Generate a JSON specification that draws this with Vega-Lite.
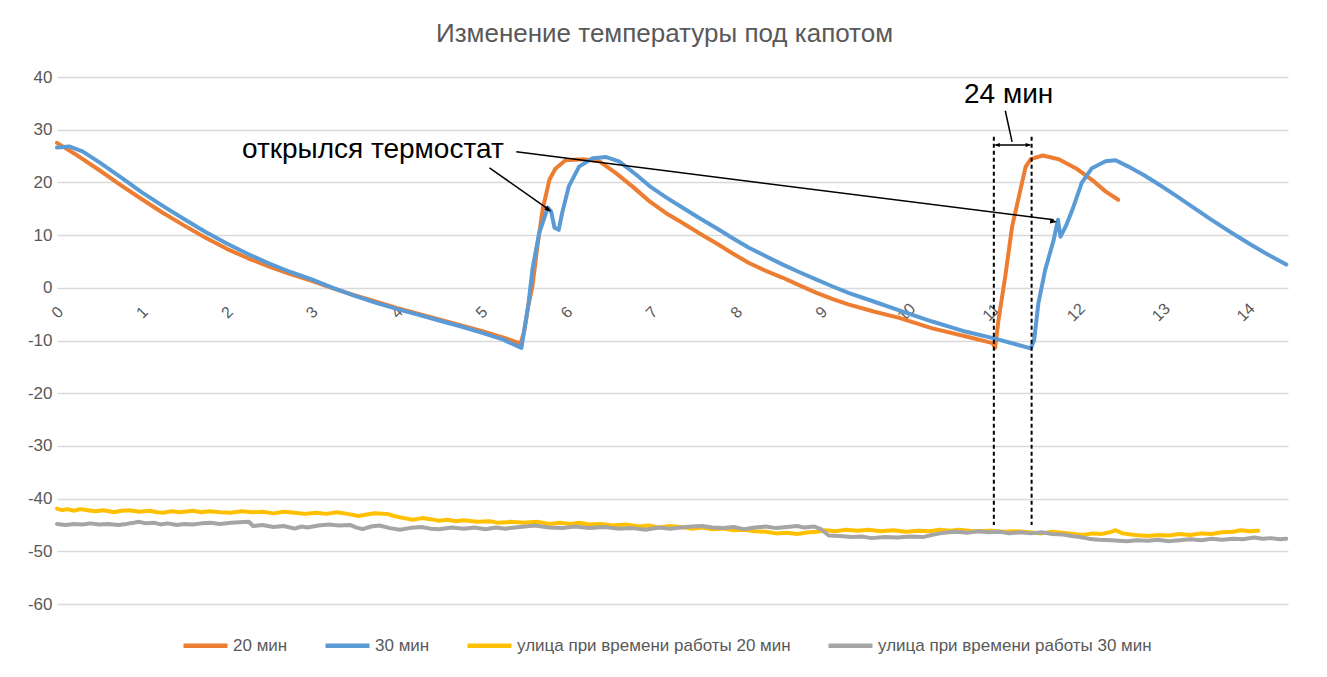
{
  "$schema": "https://vega.github.io/schema/vega-lite/v6.json",
  "width": 1231,
  "height": 527,
  "autosize": {"type": "none"},
  "padding": {"left": 57, "top": 77, "right": 39, "bottom": 73},
  "background": "white",
  "config": {
    "view": {"stroke": null},
    "font": "Liberation Sans"
  },
  "title": {
    "text": "Изменение температуры под капотом",
    "fontSize": 26,
    "fontWeight": "normal",
    "color": "#595959",
    "font": "Liberation Sans",
    "anchor": "middle",
    "baseline": "bottom",
    "offset": -5,
    "dx": -8
  },
  "layer": [
    {
      "data": {"values": [
        {"series": "20 мин", "x": 0, "t": 27.5}, {"series": "20 мин", "x": 0.25, "t": 25.0}, {"series": "20 мин", "x": 0.5, "t": 22.3}, {"series": "20 мин", "x": 0.75, "t": 19.5}, {"series": "20 мин", "x": 1.0, "t": 16.8}, {"series": "20 мин", "x": 1.25, "t": 14.2}, {"series": "20 мин", "x": 1.5, "t": 11.8}, {"series": "20 мин", "x": 1.75, "t": 9.5}, {"series": "20 мин", "x": 2.0, "t": 7.4}, {"series": "20 мин", "x": 2.25, "t": 5.6}, {"series": "20 мин", "x": 2.5, "t": 4.0}, {"series": "20 мин", "x": 2.75, "t": 2.6}, {"series": "20 мин", "x": 3.0, "t": 1.3}, {"series": "20 мин", "x": 3.25, "t": -0.1}, {"series": "20 мин", "x": 3.5, "t": -1.4}, {"series": "20 мин", "x": 3.75, "t": -2.6}, {"series": "20 мин", "x": 4.0, "t": -3.8}, {"series": "20 мин", "x": 4.25, "t": -4.9}, {"series": "20 мин", "x": 4.5, "t": -6.0}, {"series": "20 мин", "x": 4.75, "t": -7.1}, {"series": "20 мин", "x": 5.0, "t": -8.2}, {"series": "20 мин", "x": 5.25, "t": -9.4}, {"series": "20 мин", "x": 5.46, "t": -10.6}, {"series": "20 мин", "x": 5.5, "t": -8.5}, {"series": "20 мин", "x": 5.55, "t": -3.5}, {"series": "20 мин", "x": 5.6, "t": 0.3}, {"series": "20 мин", "x": 5.66, "t": 8.0}, {"series": "20 мин", "x": 5.72, "t": 14.8}, {"series": "20 мин", "x": 5.8, "t": 20.5}, {"series": "20 мин", "x": 5.87, "t": 22.6}, {"series": "20 мин", "x": 5.99, "t": 24.2}, {"series": "20 мин", "x": 6.19, "t": 24.4}, {"series": "20 мин", "x": 6.39, "t": 24.0}, {"series": "20 мин", "x": 6.58, "t": 21.8}, {"series": "20 мин", "x": 6.78, "t": 19.2}, {"series": "20 мин", "x": 6.98, "t": 16.4}, {"series": "20 мин", "x": 7.17, "t": 14.2}, {"series": "20 мин", "x": 7.37, "t": 12.3}, {"series": "20 мин", "x": 7.56, "t": 10.4}, {"series": "20 мин", "x": 7.76, "t": 8.5}, {"series": "20 мин", "x": 7.95, "t": 6.6}, {"series": "20 мин", "x": 8.15, "t": 4.7}, {"series": "20 мин", "x": 8.35, "t": 3.2}, {"series": "20 мин", "x": 8.55, "t": 1.9}, {"series": "20 мин", "x": 8.74, "t": 0.5}, {"series": "20 мин", "x": 8.94, "t": -0.9}, {"series": "20 мин", "x": 9.13, "t": -2.1}, {"series": "20 мин", "x": 9.33, "t": -3.2}, {"series": "20 мин", "x": 9.62, "t": -4.5}, {"series": "20 мин", "x": 9.92, "t": -5.7}, {"series": "20 мин", "x": 10.31, "t": -7.7}, {"series": "20 мин", "x": 10.7, "t": -9.2}, {"series": "20 мин", "x": 11.02, "t": -10.5}, {"series": "20 мин", "x": 11.05, "t": -11.4}, {"series": "20 мин", "x": 11.09, "t": -6.1}, {"series": "20 мин", "x": 11.17, "t": 2.2}, {"series": "20 мин", "x": 11.25, "t": 11.6}, {"series": "20 мин", "x": 11.33, "t": 17.3}, {"series": "20 мин", "x": 11.41, "t": 23.0}, {"series": "20 мин", "x": 11.47, "t": 24.4}, {"series": "20 мин", "x": 11.61, "t": 25.1}, {"series": "20 мин", "x": 11.8, "t": 24.4}, {"series": "20 мин", "x": 12.0, "t": 22.7}, {"series": "20 мин", "x": 12.19, "t": 20.5}, {"series": "20 мин", "x": 12.35, "t": 18.3}, {"series": "20 мин", "x": 12.5, "t": 16.7},
        {"series": "30 мин", "x": 0, "t": 26.6}, {"series": "30 мин", "x": 0.15, "t": 26.8}, {"series": "30 мин", "x": 0.3, "t": 25.9}, {"series": "30 мин", "x": 0.5, "t": 23.8}, {"series": "30 мин", "x": 0.75, "t": 21.0}, {"series": "30 мин", "x": 1.0, "t": 18.1}, {"series": "30 мин", "x": 1.25, "t": 15.5}, {"series": "30 мин", "x": 1.5, "t": 13.0}, {"series": "30 мин", "x": 1.75, "t": 10.6}, {"series": "30 мин", "x": 2.0, "t": 8.4}, {"series": "30 мин", "x": 2.25, "t": 6.4}, {"series": "30 мин", "x": 2.5, "t": 4.6}, {"series": "30 мин", "x": 2.75, "t": 3.0}, {"series": "30 мин", "x": 3.0, "t": 1.6}, {"series": "30 мин", "x": 3.25, "t": 0.0}, {"series": "30 мин", "x": 3.5, "t": -1.5}, {"series": "30 мин", "x": 3.75, "t": -2.8}, {"series": "30 мин", "x": 4.0, "t": -4.0}, {"series": "30 мин", "x": 4.25, "t": -5.1}, {"series": "30 мин", "x": 4.5, "t": -6.2}, {"series": "30 мин", "x": 4.75, "t": -7.3}, {"series": "30 мин", "x": 5.0, "t": -8.5}, {"series": "30 мин", "x": 5.25, "t": -9.8}, {"series": "30 мин", "x": 5.47, "t": -11.4}, {"series": "30 мин", "x": 5.55, "t": -3.5}, {"series": "30 мин", "x": 5.6, "t": 3.5}, {"series": "30 мин", "x": 5.68, "t": 10.4}, {"series": "30 мин", "x": 5.78, "t": 15.2}, {"series": "30 мин", "x": 5.82, "t": 14.5}, {"series": "30 мин", "x": 5.86, "t": 11.4}, {"series": "30 мин", "x": 5.91, "t": 11.0}, {"series": "30 мин", "x": 5.95, "t": 14.2}, {"series": "30 мин", "x": 6.03, "t": 19.3}, {"series": "30 мин", "x": 6.15, "t": 23.0}, {"series": "30 мин", "x": 6.31, "t": 24.6}, {"series": "30 мин", "x": 6.47, "t": 24.8}, {"series": "30 мин", "x": 6.62, "t": 24.0}, {"series": "30 мин", "x": 6.82, "t": 21.5}, {"series": "30 мин", "x": 6.98, "t": 19.3}, {"series": "30 мин", "x": 7.17, "t": 17.2}, {"series": "30 мин", "x": 7.37, "t": 15.2}, {"series": "30 мин", "x": 7.56, "t": 13.3}, {"series": "30 мин", "x": 7.76, "t": 11.4}, {"series": "30 мин", "x": 7.95, "t": 9.5}, {"series": "30 мин", "x": 8.15, "t": 7.6}, {"series": "30 мин", "x": 8.35, "t": 6.0}, {"series": "30 мин", "x": 8.55, "t": 4.4}, {"series": "30 мин", "x": 8.74, "t": 3.0}, {"series": "30 мин", "x": 8.94, "t": 1.6}, {"series": "30 мин", "x": 9.13, "t": 0.3}, {"series": "30 мин", "x": 9.33, "t": -1.0}, {"series": "30 мин", "x": 9.62, "t": -2.6}, {"series": "30 мин", "x": 9.92, "t": -4.3}, {"series": "30 мин", "x": 10.31, "t": -6.4}, {"series": "30 мин", "x": 10.7, "t": -8.3}, {"series": "30 мин", "x": 11.06, "t": -9.7}, {"series": "30 мин", "x": 11.47, "t": -11.5}, {"series": "30 мин", "x": 11.51, "t": -9.9}, {"series": "30 мин", "x": 11.56, "t": -2.9}, {"series": "30 мин", "x": 11.64, "t": 3.4}, {"series": "30 мин", "x": 11.74, "t": 9.1}, {"series": "30 мин", "x": 11.79, "t": 12.9}, {"series": "30 мин", "x": 11.82, "t": 9.7}, {"series": "30 мин", "x": 11.88, "t": 11.6}, {"series": "30 мин", "x": 11.96, "t": 14.8}, {"series": "30 мин", "x": 12.07, "t": 19.9}, {"series": "30 мин", "x": 12.19, "t": 22.7}, {"series": "30 мин", "x": 12.35, "t": 24.0}, {"series": "30 мин", "x": 12.47, "t": 24.2}, {"series": "30 мин", "x": 12.62, "t": 23.0}, {"series": "30 мин", "x": 12.8, "t": 21.4}, {"series": "30 мин", "x": 12.98, "t": 19.6}, {"series": "30 мин", "x": 13.18, "t": 17.5}, {"series": "30 мин", "x": 13.37, "t": 15.4}, {"series": "30 мин", "x": 13.6, "t": 12.9}, {"series": "30 мин", "x": 13.84, "t": 10.4}, {"series": "30 мин", "x": 14.05, "t": 8.3}, {"series": "30 мин", "x": 14.23, "t": 6.6}, {"series": "30 мин", "x": 14.48, "t": 4.4},
        {"series": "улица при времени работы 20 мин", "x": 0.0, "t": -41.9}, {"series": "улица при времени работы 20 мин", "x": 0.06, "t": -42.2}, {"series": "улица при времени работы 20 мин", "x": 0.12, "t": -42.0}, {"series": "улица при времени работы 20 мин", "x": 0.2, "t": -42.3}, {"series": "улица при времени работы 20 мин", "x": 0.27, "t": -42.0}, {"series": "улица при времени работы 20 мин", "x": 0.36, "t": -42.2}, {"series": "улица при времени работы 20 мин", "x": 0.45, "t": -42.4}, {"series": "улица при времени работы 20 мин", "x": 0.55, "t": -42.2}, {"series": "улица при времени работы 20 мин", "x": 0.67, "t": -42.6}, {"series": "улица при времени работы 20 мин", "x": 0.76, "t": -42.3}, {"series": "улица при времени работы 20 мин", "x": 0.85, "t": -42.2}, {"series": "улица при времени работы 20 мин", "x": 0.97, "t": -42.5}, {"series": "улица при времени работы 20 мин", "x": 1.09, "t": -42.3}, {"series": "улица при времени работы 20 мин", "x": 1.18, "t": -42.6}, {"series": "улица при времени работы 20 мин", "x": 1.25, "t": -42.7}, {"series": "улица при времени работы 20 мин", "x": 1.35, "t": -42.4}, {"series": "улица при времени работы 20 мин", "x": 1.45, "t": -42.6}, {"series": "улица при времени работы 20 мин", "x": 1.6, "t": -42.3}, {"series": "улица при времени работы 20 мин", "x": 1.7, "t": -42.6}, {"series": "улица при времени работы 20 мин", "x": 1.8, "t": -42.4}, {"series": "улица при времени работы 20 мин", "x": 1.92, "t": -42.6}, {"series": "улица при времени работы 20 мин", "x": 2.05, "t": -42.7}, {"series": "улица при времени работы 20 мин", "x": 2.17, "t": -42.4}, {"series": "улица при времени работы 20 мин", "x": 2.3, "t": -42.6}, {"series": "улица при времени работы 20 мин", "x": 2.42, "t": -42.5}, {"series": "улица при времени работы 20 мин", "x": 2.55, "t": -42.8}, {"series": "улица при времени работы 20 мин", "x": 2.67, "t": -42.5}, {"series": "улица при времени работы 20 мин", "x": 2.8, "t": -42.7}, {"series": "улица при времени работы 20 мин", "x": 2.92, "t": -42.9}, {"series": "улица при времени работы 20 мин", "x": 3.05, "t": -42.7}, {"series": "улица при времени работы 20 мин", "x": 3.17, "t": -42.9}, {"series": "улица при времени работы 20 мин", "x": 3.3, "t": -42.6}, {"series": "улица при времени работы 20 мин", "x": 3.42, "t": -42.9}, {"series": "улица при времени работы 20 мин", "x": 3.55, "t": -43.3}, {"series": "улица при времени работы 20 мин", "x": 3.65, "t": -43.0}, {"series": "улица при времени работы 20 мин", "x": 3.74, "t": -42.8}, {"series": "улица при времени работы 20 мин", "x": 3.89, "t": -42.9}, {"series": "улица при времени работы 20 мин", "x": 3.97, "t": -43.3}, {"series": "улица при времени работы 20 мин", "x": 4.05, "t": -43.6}, {"series": "улица при времени работы 20 мин", "x": 4.12, "t": -43.8}, {"series": "улица при времени работы 20 мин", "x": 4.19, "t": -44.0}, {"series": "улица при времени работы 20 мин", "x": 4.3, "t": -43.7}, {"series": "улица при времени работы 20 мин", "x": 4.4, "t": -43.9}, {"series": "улица при времени работы 20 мин", "x": 4.5, "t": -44.2}, {"series": "улица при времени работы 20 мин", "x": 4.6, "t": -44.0}, {"series": "улица при времени работы 20 мин", "x": 4.7, "t": -44.3}, {"series": "улица при времени работы 20 мин", "x": 4.79, "t": -44.1}, {"series": "улица при времени работы 20 мин", "x": 4.95, "t": -44.4}, {"series": "улица при времени работы 20 мин", "x": 5.1, "t": -44.3}, {"series": "улица при времени работы 20 мин", "x": 5.2, "t": -44.6}, {"series": "улица при времени работы 20 мин", "x": 5.35, "t": -44.4}, {"series": "улица при времени работы 20 мин", "x": 5.5, "t": -44.6}, {"series": "улица при времени работы 20 мин", "x": 5.65, "t": -44.4}, {"series": "улица при времени работы 20 мин", "x": 5.8, "t": -44.8}, {"series": "улица при времени работы 20 мин", "x": 5.92, "t": -44.6}, {"series": "улица при времени работы 20 мин", "x": 6.05, "t": -44.8}, {"series": "улица при времени работы 20 мин", "x": 6.15, "t": -44.6}, {"series": "улица при времени работы 20 мин", "x": 6.27, "t": -44.9}, {"series": "улица при времени работы 20 мин", "x": 6.4, "t": -44.8}, {"series": "улица при времени работы 20 мин", "x": 6.55, "t": -45.1}, {"series": "улица при времени работы 20 мин", "x": 6.7, "t": -44.9}, {"series": "улица при времени работы 20 мин", "x": 6.86, "t": -45.3}, {"series": "улица при времени работы 20 мин", "x": 6.97, "t": -45.1}, {"series": "улица при времени работы 20 мин", "x": 7.09, "t": -45.5}, {"series": "улица при времени работы 20 мин", "x": 7.22, "t": -45.2}, {"series": "улица при времени работы 20 мин", "x": 7.35, "t": -45.4}, {"series": "улица при времени работы 20 мин", "x": 7.47, "t": -45.7}, {"series": "улица при времени работы 20 мин", "x": 7.6, "t": -45.5}, {"series": "улица при времени работы 20 мин", "x": 7.72, "t": -45.8}, {"series": "улица при времени работы 20 мин", "x": 7.85, "t": -45.7}, {"series": "улица при времени работы 20 мин", "x": 7.97, "t": -46.0}, {"series": "улица при времени работы 20 мин", "x": 8.09, "t": -45.9}, {"series": "улица при времени работы 20 мин", "x": 8.22, "t": -46.2}, {"series": "улица при времени работы 20 мин", "x": 8.35, "t": -46.3}, {"series": "улица при времени работы 20 мин", "x": 8.47, "t": -46.6}, {"series": "улица при времени работы 20 мин", "x": 8.6, "t": -46.5}, {"series": "улица при времени работы 20 мин", "x": 8.72, "t": -46.7}, {"series": "улица при времени работы 20 мин", "x": 8.85, "t": -46.4}, {"series": "улица при времени работы 20 мин", "x": 8.95, "t": -46.3}, {"series": "улица при времени работы 20 мин", "x": 9.05, "t": -46.0}, {"series": "улица при времени работы 20 мин", "x": 9.17, "t": -46.2}, {"series": "улица при времени работы 20 мин", "x": 9.3, "t": -45.9}, {"series": "улица при времени работы 20 мин", "x": 9.43, "t": -46.1}, {"series": "улица при времени работы 20 мин", "x": 9.56, "t": -45.9}, {"series": "улица при времени работы 20 мин", "x": 9.7, "t": -46.2}, {"series": "улица при времени работы 20 мин", "x": 9.85, "t": -46.0}, {"series": "улица при времени работы 20 мин", "x": 10.0, "t": -46.3}, {"series": "улица при времени работы 20 мин", "x": 10.15, "t": -46.1}, {"series": "улица при времени работы 20 мин", "x": 10.28, "t": -46.2}, {"series": "улица при времени работы 20 мин", "x": 10.4, "t": -45.9}, {"series": "улица при времени работы 20 мин", "x": 10.52, "t": -46.1}, {"series": "улица при времени работы 20 мин", "x": 10.62, "t": -45.9}, {"series": "улица при времени работы 20 мин", "x": 10.8, "t": -46.2}, {"series": "улица при времени работы 20 мин", "x": 11.0, "t": -46.1}, {"series": "улица при времени работы 20 мин", "x": 11.15, "t": -46.3}, {"series": "улица при времени работы 20 мин", "x": 11.3, "t": -46.2}, {"series": "улица при времени работы 20 мин", "x": 11.45, "t": -46.4}, {"series": "улица при времени работы 20 мин", "x": 11.6, "t": -46.6}, {"series": "улица при времени работы 20 мин", "x": 11.72, "t": -46.3}, {"series": "улица при времени работы 20 мин", "x": 11.85, "t": -46.5}, {"series": "улица при времени работы 20 мин", "x": 11.97, "t": -46.7}, {"series": "улица при времени работы 20 мин", "x": 12.09, "t": -46.9}, {"series": "улица при времени работы 20 мин", "x": 12.2, "t": -46.6}, {"series": "улица при времени работы 20 мин", "x": 12.3, "t": -46.7}, {"series": "улица при времени работы 20 мин", "x": 12.4, "t": -46.4}, {"series": "улица при времени работы 20 мин", "x": 12.47, "t": -46.0}, {"series": "улица при времени работы 20 мин", "x": 12.55, "t": -46.6}, {"series": "улица при времени работы 20 мин", "x": 12.7, "t": -46.9}, {"series": "улица при времени работы 20 мин", "x": 12.85, "t": -47.1}, {"series": "улица при времени работы 20 мин", "x": 12.97, "t": -46.9}, {"series": "улица при времени работы 20 мин", "x": 13.1, "t": -47.0}, {"series": "улица при времени работы 20 мин", "x": 13.22, "t": -46.7}, {"series": "улица при времени работы 20 мин", "x": 13.35, "t": -46.9}, {"series": "улица при времени работы 20 мин", "x": 13.48, "t": -46.6}, {"series": "улица при времени работы 20 мин", "x": 13.6, "t": -46.7}, {"series": "улица при времени работы 20 мин", "x": 13.72, "t": -46.4}, {"series": "улица при времени работы 20 мин", "x": 13.85, "t": -46.3}, {"series": "улица при времени работы 20 мин", "x": 13.95, "t": -46.0}, {"series": "улица при времени работы 20 мин", "x": 14.05, "t": -46.2}, {"series": "улица при времени работы 20 мин", "x": 14.15, "t": -46.1},
        {"series": "улица при времени работы 30 мин", "x": 0.0, "t": -44.8}, {"series": "улица при времени работы 30 мин", "x": 0.1, "t": -45.0}, {"series": "улица при времени работы 30 мин", "x": 0.2, "t": -44.8}, {"series": "улица при времени работы 30 мин", "x": 0.3, "t": -44.9}, {"series": "улица при времени работы 30 мин", "x": 0.39, "t": -44.7}, {"series": "улица при времени работы 30 мин", "x": 0.5, "t": -44.9}, {"series": "улица при времени работы 30 мин", "x": 0.6, "t": -44.8}, {"series": "улица при времени работы 30 мин", "x": 0.72, "t": -45.0}, {"series": "улица при времени работы 30 мин", "x": 0.82, "t": -44.8}, {"series": "улица при времени работы 30 мин", "x": 0.9, "t": -44.6}, {"series": "улица при времени работы 30 мин", "x": 0.96, "t": -44.4}, {"series": "улица при времени работы 30 мин", "x": 1.05, "t": -44.7}, {"series": "улица при времени работы 30 мин", "x": 1.15, "t": -44.6}, {"series": "улица при времени работы 30 мин", "x": 1.22, "t": -44.9}, {"series": "улица при времени работы 30 мин", "x": 1.3, "t": -44.7}, {"series": "улица при времени работы 30 мин", "x": 1.41, "t": -45.0}, {"series": "улица при времени работы 30 мин", "x": 1.5, "t": -44.8}, {"series": "улица при времени работы 30 мин", "x": 1.6, "t": -44.9}, {"series": "улица при времени работы 30 мин", "x": 1.7, "t": -44.7}, {"series": "улица при времени работы 30 мин", "x": 1.81, "t": -44.6}, {"series": "улица при времени работы 30 мин", "x": 1.92, "t": -44.8}, {"series": "улица при времени работы 30 мин", "x": 2.05, "t": -44.6}, {"series": "улица при времени работы 30 мин", "x": 2.15, "t": -44.5}, {"series": "улица при времени работы 30 мин", "x": 2.26, "t": -44.4}, {"series": "улица при времени работы 30 мин", "x": 2.31, "t": -45.2}, {"series": "улица при времени работы 30 мин", "x": 2.42, "t": -45.0}, {"series": "улица при времени работы 30 мин", "x": 2.55, "t": -45.4}, {"series": "улица при времени работы 30 мин", "x": 2.67, "t": -45.2}, {"series": "улица при времени работы 30 мин", "x": 2.8, "t": -45.7}, {"series": "улица при времени работы 30 мин", "x": 2.88, "t": -45.3}, {"series": "улица при времени работы 30 мин", "x": 2.95, "t": -45.5}, {"series": "улица при времени работы 30 мин", "x": 3.08, "t": -45.1}, {"series": "улица при времени работы 30 мин", "x": 3.2, "t": -44.9}, {"series": "улица при времени работы 30 мин", "x": 3.32, "t": -45.1}, {"series": "улица при времени работы 30 мин", "x": 3.45, "t": -45.0}, {"series": "улица при времени работы 30 мин", "x": 3.53, "t": -45.5}, {"series": "улица при времени работы 30 мин", "x": 3.6, "t": -45.8}, {"series": "улица при времени работы 30 мин", "x": 3.7, "t": -45.3}, {"series": "улица при времени работы 30 мин", "x": 3.8, "t": -45.1}, {"series": "улица при времени работы 30 мин", "x": 3.92, "t": -45.6}, {"series": "улица при времени работы 30 мин", "x": 4.04, "t": -45.9}, {"series": "улица при времени работы 30 мин", "x": 4.15, "t": -45.6}, {"series": "улица при времени работы 30 мин", "x": 4.29, "t": -45.4}, {"series": "улица при времени работы 30 мин", "x": 4.4, "t": -45.7}, {"series": "улица при времени работы 30 мин", "x": 4.5, "t": -45.8}, {"series": "улица при времени работы 30 мин", "x": 4.65, "t": -45.5}, {"series": "улица при времени работы 30 мин", "x": 4.79, "t": -45.7}, {"series": "улица при времени работы 30 мин", "x": 4.92, "t": -45.5}, {"series": "улица при времени работы 30 мин", "x": 5.05, "t": -45.8}, {"series": "улица при времени работы 30 мин", "x": 5.17, "t": -45.5}, {"series": "улица при времени работы 30 мин", "x": 5.28, "t": -45.7}, {"series": "улица при времени работы 30 мин", "x": 5.45, "t": -45.4}, {"series": "улица при времени работы 30 мин", "x": 5.63, "t": -45.1}, {"series": "улица при времени работы 30 мин", "x": 5.8, "t": -45.5}, {"series": "улица при времени работы 30 мин", "x": 5.95, "t": -45.6}, {"series": "улица при времени работы 30 мин", "x": 6.1, "t": -45.3}, {"series": "улица при времени работы 30 мин", "x": 6.27, "t": -45.6}, {"series": "улица при времени работы 30 мин", "x": 6.45, "t": -45.4}, {"series": "улица при времени работы 30 мин", "x": 6.6, "t": -45.7}, {"series": "улица при времени работы 30 мин", "x": 6.78, "t": -45.6}, {"series": "улица при времени работы 30 мин", "x": 6.93, "t": -45.9}, {"series": "улица при времени работы 30 мин", "x": 7.09, "t": -45.5}, {"series": "улица при времени работы 30 мин", "x": 7.22, "t": -45.7}, {"series": "улица при времени работы 30 мин", "x": 7.35, "t": -45.5}, {"series": "улица при времени работы 30 мин", "x": 7.47, "t": -45.3}, {"series": "улица при времени работы 30 мин", "x": 7.6, "t": -45.2}, {"series": "улица при времени работы 30 мин", "x": 7.72, "t": -45.5}, {"series": "улица при времени работы 30 мин", "x": 7.85, "t": -45.6}, {"series": "улица при времени работы 30 мин", "x": 7.97, "t": -45.4}, {"series": "улица при времени работы 30 мин", "x": 8.09, "t": -45.8}, {"series": "улица при времени работы 30 мин", "x": 8.22, "t": -45.5}, {"series": "улица при времени работы 30 мин", "x": 8.35, "t": -45.3}, {"series": "улица при времени работы 30 мин", "x": 8.47, "t": -45.6}, {"series": "улица при времени работы 30 мин", "x": 8.6, "t": -45.4}, {"series": "улица при времени работы 30 мин", "x": 8.72, "t": -45.2}, {"series": "улица при времени работы 30 мин", "x": 8.8, "t": -45.5}, {"series": "улица при времени работы 30 мин", "x": 8.92, "t": -45.3}, {"series": "улица при времени работы 30 мин", "x": 9.0, "t": -45.8}, {"series": "улица при времени работы 30 мин", "x": 9.09, "t": -47.0}, {"series": "улица при времени работы 30 мин", "x": 9.22, "t": -47.1}, {"series": "улица при времени работы 30 мин", "x": 9.35, "t": -47.3}, {"series": "улица при времени работы 30 мин", "x": 9.47, "t": -47.2}, {"series": "улица при времени работы 30 мин", "x": 9.6, "t": -47.5}, {"series": "улица при времени работы 30 мин", "x": 9.75, "t": -47.3}, {"series": "улица при времени работы 30 мин", "x": 9.9, "t": -47.4}, {"series": "улица при времени работы 30 мин", "x": 10.05, "t": -47.2}, {"series": "улица при времени работы 30 мин", "x": 10.2, "t": -47.3}, {"series": "улица при времени работы 30 мин", "x": 10.3, "t": -46.9}, {"series": "улица при времени работы 30 мин", "x": 10.4, "t": -46.6}, {"series": "улица при времени работы 30 мин", "x": 10.5, "t": -46.4}, {"series": "улица при времени работы 30 мин", "x": 10.6, "t": -46.3}, {"series": "улица при времени работы 30 мин", "x": 10.72, "t": -46.5}, {"series": "улица при времени работы 30 мин", "x": 10.85, "t": -46.2}, {"series": "улица при времени работы 30 мин", "x": 10.97, "t": -46.4}, {"series": "улица при времени работы 30 мин", "x": 11.1, "t": -46.3}, {"series": "улица при времени работы 30 мин", "x": 11.22, "t": -46.6}, {"series": "улица при времени работы 30 мин", "x": 11.35, "t": -46.4}, {"series": "улица при времени работы 30 мин", "x": 11.47, "t": -46.6}, {"series": "улица при времени работы 30 мин", "x": 11.6, "t": -46.4}, {"series": "улица при времени работы 30 мин", "x": 11.72, "t": -46.7}, {"series": "улица при времени работы 30 мин", "x": 11.85, "t": -46.8}, {"series": "улица при времени работы 30 мин", "x": 11.95, "t": -47.1}, {"series": "улица при времени работы 30 мин", "x": 12.05, "t": -47.3}, {"series": "улица при времени работы 30 мин", "x": 12.15, "t": -47.6}, {"series": "улица при времени работы 30 мин", "x": 12.27, "t": -47.8}, {"series": "улица при времени работы 30 мин", "x": 12.42, "t": -47.9}, {"series": "улица при времени работы 30 мин", "x": 12.6, "t": -48.1}, {"series": "улица при времени работы 30 мин", "x": 12.72, "t": -47.9}, {"series": "улица при времени работы 30 мин", "x": 12.85, "t": -48.0}, {"series": "улица при времени работы 30 мин", "x": 12.97, "t": -47.8}, {"series": "улица при времени работы 30 мин", "x": 13.09, "t": -48.1}, {"series": "улица при времени работы 30 мин", "x": 13.22, "t": -47.9}, {"series": "улица при времени работы 30 мин", "x": 13.35, "t": -47.7}, {"series": "улица при времени работы 30 мин", "x": 13.48, "t": -47.9}, {"series": "улица при времени работы 30 мин", "x": 13.6, "t": -47.6}, {"series": "улица при времени работы 30 мин", "x": 13.72, "t": -47.8}, {"series": "улица при времени работы 30 мин", "x": 13.85, "t": -47.6}, {"series": "улица при времени работы 30 мин", "x": 13.97, "t": -47.7}, {"series": "улица при времени работы 30 мин", "x": 14.1, "t": -47.4}, {"series": "улица при времени работы 30 мин", "x": 14.2, "t": -47.6}, {"series": "улица при времени работы 30 мин", "x": 14.3, "t": -47.5}, {"series": "улица при времени работы 30 мин", "x": 14.4, "t": -47.7}, {"series": "улица при времени работы 30 мин", "x": 14.48, "t": -47.6}
      ]},
      "mark": {"type": "line", "strokeWidth": 4, "strokeJoin": "round", "strokeCap": "round"},
      "encoding": {
        "x": {
          "field": "x", "type": "quantitative",
          "scale": {"domain": [0, 14.5], "nice": false, "zero": false},
          "axis": {
            "title": null, "values": [0,1,2,3,4,5,6,7,8,9,10,11,12,13,14], "format": "d",
            "offset": -316, "domain": false, "ticks": false, "grid": false,
            "labelAngle": -45, "labelAlign": "center", "labelBaseline": "middle",
            "labelPadding": 24, "labelFontSize": 16, "labelColor": "#595959",
            "labelFlush": false, "labelOverlap": false, "labelBound": false,
            "labelFont": "Liberation Sans"
          }
        },
        "y": {
          "field": "t", "type": "quantitative",
          "scale": {"domain": [-60, 40], "nice": false},
          "axis": {
            "title": null, "values": [-60,-50,-40,-30,-20,-10,0,10,20,30,40],
            "labelExpr": "'' + datum.value",
            "domain": false, "ticks": false, "gridColor": "#d9d9d9", "gridWidth": 1.5,
            "labelFontSize": 17, "labelColor": "#595959", "labelPadding": 5,
            "labelFont": "Liberation Sans"
          }
        },
        "color": {
          "field": "series", "type": "nominal",
          "scale": {
            "domain": ["20 мин", "30 мин", "улица при времени работы 20 мин", "улица при времени работы 30 мин"],
            "range": ["#ED7D31", "#5B9BD5", "#FFC000", "#A5A5A5"]
          },
          "legend": {
            "title": null, "orient": "none", "direction": "horizontal",
            "legendX": 124, "legendY": 544,
            "symbolType": "stroke", "symbolSize": 1936, "symbolStrokeWidth": 4.5,
            "labelFontSize": 17, "labelColor": "#595959", "labelFont": "Liberation Sans",
            "labelLimit": 0, "columnPadding": 28, "labelOffset": 3
          }
        }
      }
    },
    {
      "data": {"values": [
        {"x": 5.094, "y": 22.77, "x2": 5.79, "y2": 14.9},
        {"x": 5.41, "y": 25.8, "x2": 11.74, "y2": 12.9},
        {"x": 11.06, "y": 27.1, "x2": 11.455, "y2": 27.1},
        {"x": 11.17, "y": 33.6, "x2": 11.25, "y2": 27.7}
      ]},
      "mark": {"type": "rule", "color": "black", "strokeWidth": 1.5},
      "encoding": {
        "x": {"field": "x", "type": "quantitative"},
        "y": {"field": "y", "type": "quantitative"},
        "x2": {"field": "x2"},
        "y2": {"field": "y2"}
      }
    },
    {
      "data": {"values": [
        {"x": 11.035, "y": 28.65, "y2": -45.0},
        {"x": 11.48, "y": 28.65, "y2": -45.0}
      ]},
      "mark": {"type": "rule", "color": "black", "strokeWidth": 2, "strokeDash": [4, 3]},
      "encoding": {
        "x": {"field": "x", "type": "quantitative"},
        "y": {"field": "y", "type": "quantitative"},
        "y2": {"field": "y2"}
      }
    },
    {
      "data": {"values": [{"x": 5.824, "y": 14.42}]},
      "mark": {"type": "point", "shape": "M0,0L-0.7,2L0.7,2Z", "filled": true, "color": "black", "opacity": 1, "size": 49, "angle": 125.4},
      "encoding": {"x": {"field": "x", "type": "quantitative"}, "y": {"field": "y", "type": "quantitative"}}
    },
    {
      "data": {"values": [{"x": 11.78, "y": 12.5}]},
      "mark": {"type": "point", "shape": "M0,0L-0.7,2L0.7,2Z", "filled": true, "color": "black", "opacity": 1, "size": 49, "angle": 97.4},
      "encoding": {"x": {"field": "x", "type": "quantitative"}, "y": {"field": "y", "type": "quantitative"}}
    },
    {
      "data": {"values": [{"x": 11.035, "y": 27.1}]},
      "mark": {"type": "point", "shape": "M0,0L-0.7,2L0.7,2Z", "filled": true, "color": "black", "opacity": 1, "size": 36, "angle": 270},
      "encoding": {"x": {"field": "x", "type": "quantitative"}, "y": {"field": "y", "type": "quantitative"}}
    },
    {
      "data": {"values": [{"x": 11.48, "y": 27.1}]},
      "mark": {"type": "point", "shape": "M0,0L-0.7,2L0.7,2Z", "filled": true, "color": "black", "opacity": 1, "size": 36, "angle": 90},
      "encoding": {"x": {"field": "x", "type": "quantitative"}, "y": {"field": "y", "type": "quantitative"}}
    },
    {
      "data": {"values": [
        {"x": 3.72, "y": 26.2, "label": "открылся термостат"},
        {"x": 11.21, "y": 36.6, "label": "24 мин"}
      ]},
      "mark": {"type": "text", "fontSize": 28, "color": "black", "font": "Liberation Sans", "align": "center", "baseline": "middle"},
      "encoding": {
        "x": {"field": "x", "type": "quantitative"},
        "y": {"field": "y", "type": "quantitative"},
        "text": {"field": "label"}
      }
    }
  ]
}
